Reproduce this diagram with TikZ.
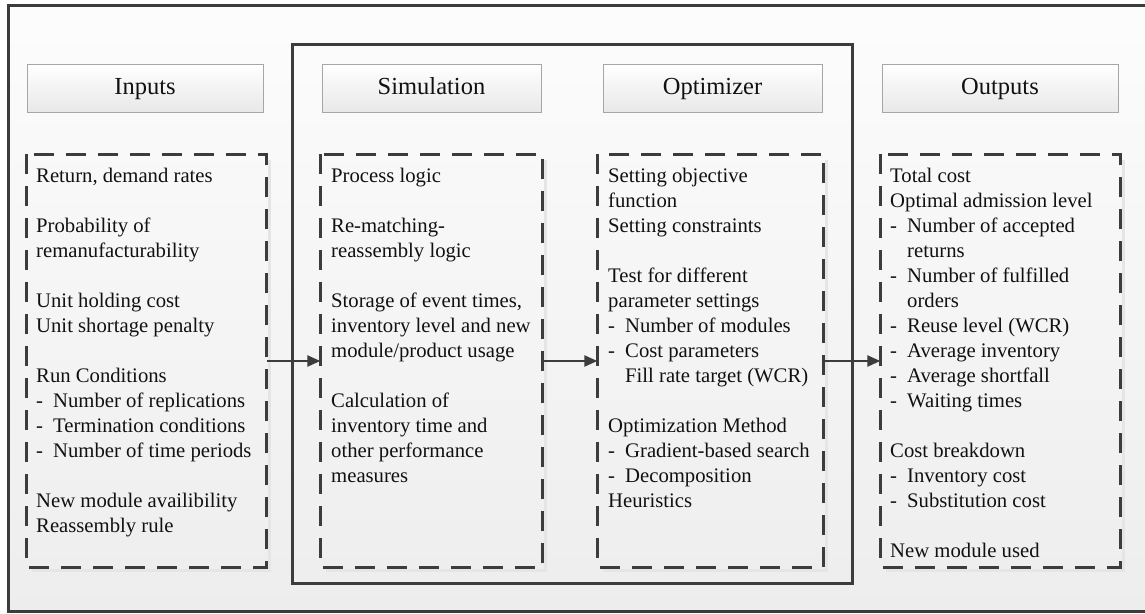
\documentclass[tikz,border=0pt]{standalone}
\usepackage{fontspec}
\setmainfont{Liberation Serif}
\usetikzlibrary{arrows.meta,calc}

\definecolor{frameline}{HTML}{3C3C3C}
\definecolor{txt}{HTML}{111111}

% list helpers: a dash bullet and the matching hanging indent
\newcommand\lstdash{\makebox[17pt][l]{-}}
\newcommand\lstind{\hspace*{17pt}}
\newcommand\lstgap{\\[25pt]}
\newcommand\lstblock[1]{\parbox[t]{228pt}{\raggedright\setlength\parindent{0pt}#1}}

\tikzset{
  frame/.style={draw=frameline, line width=3pt},
  header/.style={draw=black!35, line width=0.9pt, top color=white, bottom color=black!9,
    minimum height=48pt, inner sep=0pt, text=txt, text height=17pt, text depth=5pt,
    font=\fontsize{24.5pt}{28pt}\selectfont},
  listbox/.style={draw=frameline, line width=3.3pt, dash pattern=on 20pt off 12pt,
    inner sep=0pt, minimum height=410pt},
  listtext/.style={anchor=base west, inner sep=0pt, text=txt,
    font=\fontsize{20.7pt}{25pt}\selectfont},
  boxshadow/.style={draw=black!10, line width=3pt},
  flow/.style={draw=frameline, line width=2.2pt, -{Triangle[length=13pt,width=11pt]}},
}

\begin{document}
\begin{tikzpicture}[x=1pt,y=-1pt]
  \useasboundingbox (0,0) rectangle (1145,613);
  \clip (0,0) rectangle (1145,613);
  \fill[white] (0,0) rectangle (1145,613);

  % outer frame with a soft vertical gradient
  \shade[top color=black!1, bottom color=black!7] (8,5) rectangle (1148,611.5);
  \draw[frame] (8,5) rectangle (1148,611.5);

  % frame around simulation and optimizer
  \draw[frame] (292,44) rectangle (852,583);

  % column headers
  \node[header, minimum width=236pt] (hin)  at (145,88)   {Inputs};
  \node[header, minimum width=219pt] (hsim) at (431.5,88) {Simulation};
  \node[header, minimum width=219pt] (hopt) at (712.5,88) {Optimizer};
  \node[header, minimum width=236pt] (hout) at (1000,88)  {Outputs};

  % dashed content boxes
  \node[listbox, draw=none, minimum width=237pt] (bin)  at (146.5,361) {};
  \node[listbox, draw=none, minimum width=219pt] (bsim) at (431.5,361) {};
  \node[listbox, draw=none, minimum width=223pt] (bopt) at (710.5,361) {};
  \node[listbox, draw=none, minimum width=237pt] (bout) at (1000.5,361) {};

  \foreach \b in {bin,bsim,bopt,bout}{
    \draw[boxshadow] ($(\b.north east)+(3,6)$) -- ($(\b.south east)+(3,3)$) -- ($(\b.south west)+(6,3)$);
  }
  \foreach \b in {bin,bsim,bopt,bout}{
    \draw[draw=frameline, line width=3.3pt, dash pattern=on 20pt off 12pt]
      (\b.north west) rectangle (\b.south east);
  }

  % box contents
  \node[listtext] (tin) at (36,182) {\lstblock{%
    Return, demand rates\lstgap
    Probability of\\
    remanufacturability\lstgap
    Unit holding cost\\
    Unit shortage penalty\lstgap
    Run Conditions\\
    \lstdash Number of replications\\
    \lstdash Termination conditions\\
    \lstdash Number of time periods\lstgap
    New module availibility\\
    Reassembly rule}};

  \node[listtext] (tsim) at (331,182) {\lstblock{%
    Process logic\lstgap
    Re-matching-\\
    reassembly logic\lstgap
    Storage of event times,\\
    inventory level and new\\
    module/product usage\lstgap
    Calculation of\\
    inventory time and\\
    other performance\\
    measures}};

  \node[listtext] (topt) at (608,182) {\lstblock{%
    Setting objective\\
    function\\
    Setting constraints\lstgap
    Test for different\\
    parameter settings\\
    \lstdash Number of modules\\
    \lstdash Cost parameters\\
    \lstind Fill rate target (WCR)\lstgap
    Optimization Method\\
    \lstdash Gradient-based search\\
    \lstdash Decomposition\\
    Heuristics}};

  \node[listtext] (tout) at (890,182) {\lstblock{%
    Total cost\\
    Optimal admission level\\
    \lstdash Number of accepted\\
    \lstind returns\\
    \lstdash Number of fulfilled\\
    \lstind orders\\
    \lstdash Reuse level (WCR)\\
    \lstdash Average inventory\\
    \lstdash Average shortfall\\
    \lstdash Waiting times\lstgap
    Cost breakdown\\
    \lstdash Inventory cost\\
    \lstdash Substitution cost\lstgap
    New module used}};

  % flow between stages
  \draw[flow] (bin.east) -- (bsim.west);
  \draw[flow] (bsim.east) -- (bopt.west);
  \draw[flow] (bopt.east) -- (bout.west);
\end{tikzpicture}
\end{document}
